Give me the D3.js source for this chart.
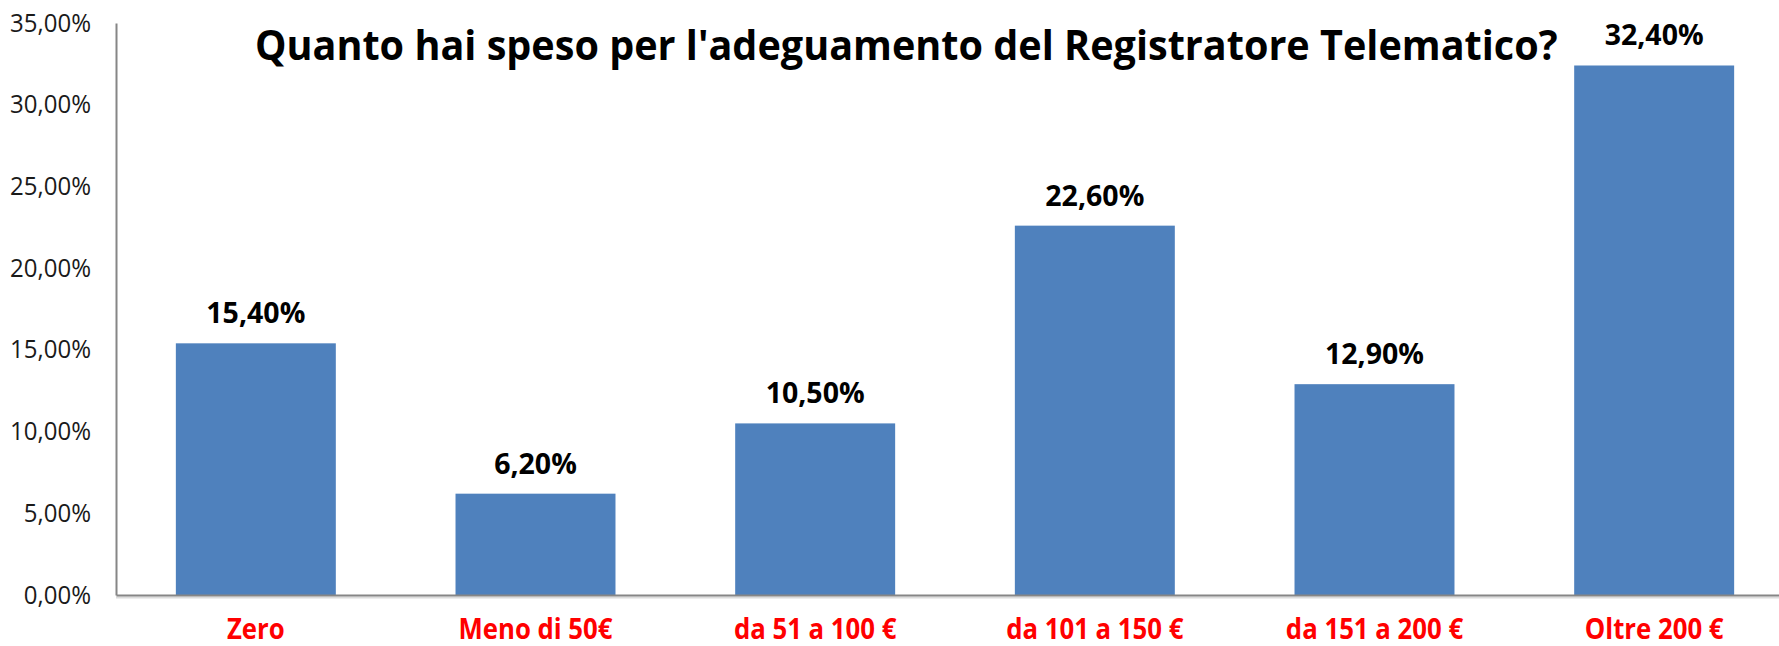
<!DOCTYPE html>
<html>
<head>
<meta charset="utf-8">
<script src="https://cdn.jsdelivr.net/npm/d3@7/dist/d3.min.js"></script>
<style>
  html, body { margin: 0; padding: 0; background: #fff; }
  svg { display: block; }
</style>
</head>
<body>
<div id="chart"></div>
<script>
// ---- Data ----
const categories = ["Zero", "Meno di 50€", "da 51 a 100 €", "da 101 a 150 €", "da 151 a 200 €", "Oltre 200 €"];
const values = [0.154, 0.062, 0.105, 0.226, 0.129, 0.324];
const yTicks = [0, 0.05, 0.10, 0.15, 0.20, 0.25, 0.30, 0.35];
const titleText = "Quanto hai speso per l'adeguamento del Registratore Telematico?";

// ---- Layout ----
const W = 1779, H = 646;
const plot = { left: 116, right: 1794, top: 23, bottom: 595 };

const locale = d3.formatLocale({ decimal: ",", thousands: ".", grouping: [3], currency: ["", "€"], percent: "%" });
const fmt = locale.format(".2%");

const svg = d3.select("#chart").append("svg")
  .attr("width", W).attr("height", H)
  .style("background", "#fff");

const x = d3.scaleBand()
  .domain(categories)
  .range([plot.left, plot.right])
  .paddingInner(0.428)
  .paddingOuter(0.214);

const y = d3.scaleLinear()
  .domain([0, 0.35])
  .range([plot.bottom, plot.top]);

// Bars
svg.append("g").selectAll("rect")
  .data(values)
  .join("rect")
  .attr("x", (d, i) => x(categories[i]))
  .attr("y", d => y(d))
  .attr("width", x.bandwidth())
  .attr("height", d => y(0) - y(d))
  .attr("fill", "#4F81BD");

// Y axis
const yAxis = svg.append("g")
  .attr("transform", `translate(${plot.left},0)`)
  .call(d3.axisLeft(y).tickValues(yTicks).tickFormat(fmt).tickSize(0).tickPadding(25));
yAxis.select(".domain").attr("stroke", "#868686").attr("stroke-width", 2);
yAxis.selectAll("text")
  .attr("font-family", "'Open Sans', sans-serif")
  .attr("font-size", 25)
  .attr("fill", "#1a1a1a")
  .each(function () {
    const w = this.getComputedTextLength();
    d3.select(this).attr("textLength", w * 0.96).attr("lengthAdjust", "spacingAndGlyphs");
  });

// X axis baseline with light shadow
svg.append("line")
  .attr("x1", plot.left).attr("x2", W)
  .attr("y1", y(0) + 2.5).attr("y2", y(0) + 2.5)
  .attr("stroke", "#dcdcdc").attr("stroke-width", 2);
const xAxis = svg.append("g")
  .attr("transform", `translate(0,${y(0)})`)
  .call(d3.axisBottom(x).tickSize(0).tickPadding(24));
xAxis.select(".domain").attr("stroke", "#868686").attr("stroke-width", 2);
xAxis.selectAll("text")
  .attr("font-family", "'Open Sans', sans-serif")
  .attr("font-weight", "bold")
  .attr("font-size", 28)
  .attr("fill", "#FF0000")
  .attr("dy", "0.71em")
  .each(function () {
    const w = this.getComputedTextLength();
    d3.select(this).attr("textLength", w * 0.92).attr("lengthAdjust", "spacingAndGlyphs");
  });

// Value labels
svg.append("g").selectAll("text")
  .data(values)
  .join("text")
  .attr("x", (d, i) => x(categories[i]) + x.bandwidth() / 2)
  .attr("y", d => y(d) - 20)
  .attr("text-anchor", "middle")
  .attr("font-family", "'Open Sans', sans-serif")
  .attr("font-weight", "bold")
  .attr("font-size", 28.5)
  .attr("fill", "#000")
  .text(d => fmt(d));

// Title (horizontally condensed to mimic Calibri Bold)
const titleG = svg.append("g");
const title = titleG.append("text")
  .attr("x", 0)
  .attr("y", 0)
  .attr("font-family", "'Open Sans', sans-serif")
  .attr("font-weight", "bold")
  .attr("font-size", 42)
  .attr("fill", "#000")
  .text(titleText);
const natural = title.node().getComputedTextLength();
const sx = 1303 / natural;
titleG.attr("transform", `translate(255,60) scale(${sx},1)`);
</script>
</body>
</html>
